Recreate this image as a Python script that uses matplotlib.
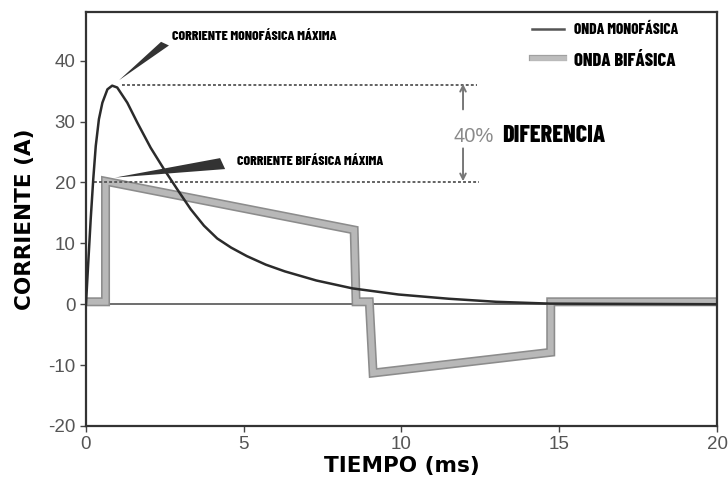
import matplotlib
matplotlib.use("Agg")
import matplotlib.pyplot as plt
import matplotlib.patheffects as pe
from matplotlib.patches import Polygon

plt.rcParams['axes.unicode_minus'] = False

# monophasic waveform (ms, A)
mono_t = [0, 0.06, 0.15, 0.23, 0.31, 0.41, 0.52, 0.68, 0.83, 0.99, 1.31, 1.63, 2.05,
          2.47, 2.89, 3.32, 3.74, 4.16, 4.6, 5.1, 5.7, 6.3, 7.3, 8.45, 9.9, 11.5,
          13.0, 14.7, 20]
mono_i = [0, 5.7, 14, 20.5, 26, 30.4, 33.1, 35.3, 35.9, 35.6, 33.1, 29.8, 25.7,
          22.2, 18.9, 15.6, 12.9, 10.8, 9.3, 7.9, 6.5, 5.4, 3.9, 2.6, 1.6, 0.9,
          0.4, 0.1, 0]

# biphasic waveform corners
bi_t = [0, 0.62, 0.62, 8.5, 8.56, 8.98, 9.1, 14.73, 14.73, 20]
bi_i = [0.4, 0.4, 20.2, 12.2, 0.4, 0.4, -11.3, -7.9, 0.4, 0.4]

mono_peak = 36
bi_peak = 20

xticks = [0, 5, 10, 15, 20]
yticks = [-20, -10, 0, 10, 20, 30, 40]

narrow = ['Barlow Condensed', 'Liberation Sans Narrow', 'DejaVu Sans']
tick_font = ['Liberation Sans', 'DejaVu Sans']

fig = plt.figure(figsize=(7.28, 4.82), dpi=100)
ax = fig.add_axes([0.1181, 0.1162, 0.8668, 0.8589])

ax.set_xlim(0, 20)
ax.set_ylim(-20, 48)

ax.axhline(0, color='#555555', lw=1.2, zorder=1)

bi_fx = [pe.Stroke(linewidth=6.5, foreground='#8c8c8c'), pe.Normal()]
ax.plot(bi_t, bi_i, color='#b8b8b8', lw=4.2, solid_joinstyle='miter',
        path_effects=bi_fx, zorder=2)
ax.plot(mono_t, mono_i, color='#2b2b2b', lw=1.8, zorder=3)

# dotted reference lines at both peaks
ax.plot([1.13, 12.4], [mono_peak, mono_peak], color='#555555', lw=1.3,
        linestyle=(0, (1.6, 1.2)), zorder=2)
ax.plot([0.25, 12.45], [bi_peak, bi_peak], color='#555555', lw=1.3,
        linestyle=(0, (1.6, 1.2)), zorder=2)

# difference arrows
ax.annotate('', xy=(11.95, mono_peak + 0.2), xytext=(11.95, 32.0),
            arrowprops=dict(arrowstyle='->', color='#777777', lw=1.4,
                            shrinkA=0, shrinkB=0))
ax.annotate('', xy=(11.95, bi_peak + 0.2), xytext=(11.95, 25.6),
            arrowprops=dict(arrowstyle='->', color='#777777', lw=1.4,
                            shrinkA=0, shrinkB=0))
ax.text(11.66, 27.6, '40%', color='#8a8a8a', fontsize=14.5, family=tick_font,
        va='center', ha='left')
ax.text(13.19, 27.6, 'DIFERENCIA', color='black', fontsize=17.5, family=narrow,
        fontweight='heavy', va='center', ha='left')

# pointer wedges
ax.add_patch(Polygon([[1.05, 36.8], [2.38, 43.1], [2.63, 42.5]], closed=True,
                     facecolor='#333333', edgecolor='none', zorder=4))
ax.add_patch(Polygon([[0.92, 20.8], [4.25, 24.0], [4.41, 22.2]], closed=True,
                     facecolor='#333333', edgecolor='none', zorder=4))
ax.text(2.73, 44.05, 'CORRIENTE MONOFÁSICA MÁXIMA', fontsize=10, family=narrow,
        fontweight='heavy', va='center', ha='left')
ax.text(4.78, 23.5, 'CORRIENTE BIFÁSICA MÁXIMA', fontsize=10, family=narrow,
        fontweight='heavy', va='center', ha='left')

# legend drawn by hand
ax.plot([14.14, 15.15], [45.2, 45.2], color='#555555', lw=1.8)
ax.plot([14.14, 15.15], [40.5, 40.5], color='#bdbdbd', lw=3.5,
        path_effects=[pe.Stroke(linewidth=4.5, foreground='#a0a0a0'), pe.Normal()])
ax.text(15.47, 45.0, 'ONDA MONOFÁSICA', fontsize=11, family=narrow,
        fontweight='heavy', va='center', ha='left')
ax.text(15.47, 40.1, 'ONDA BIFÁSICA', fontsize=13.3, family=narrow,
        fontweight='heavy', va='center', ha='left')

ax.set_xticks(xticks)
ax.set_yticks(yticks)
ax.tick_params(direction='out', length=4, width=1, color='#444444',
               labelcolor='#555555', labelsize=13.5)
for lab in ax.get_xticklabels() + ax.get_yticklabels():
    lab.set_family(tick_font)

for s in ax.spines.values():
    s.set_color('#333333')
    s.set_linewidth(1.6)

ax.set_xlabel('TIEMPO (ms)', fontsize=15.5, fontweight='bold', labelpad=2)
ax.set_ylabel('CORRIENTE (A)', fontsize=15.5, fontweight='bold', labelpad=9.5)

fig.savefig('out.png', dpi=100)
